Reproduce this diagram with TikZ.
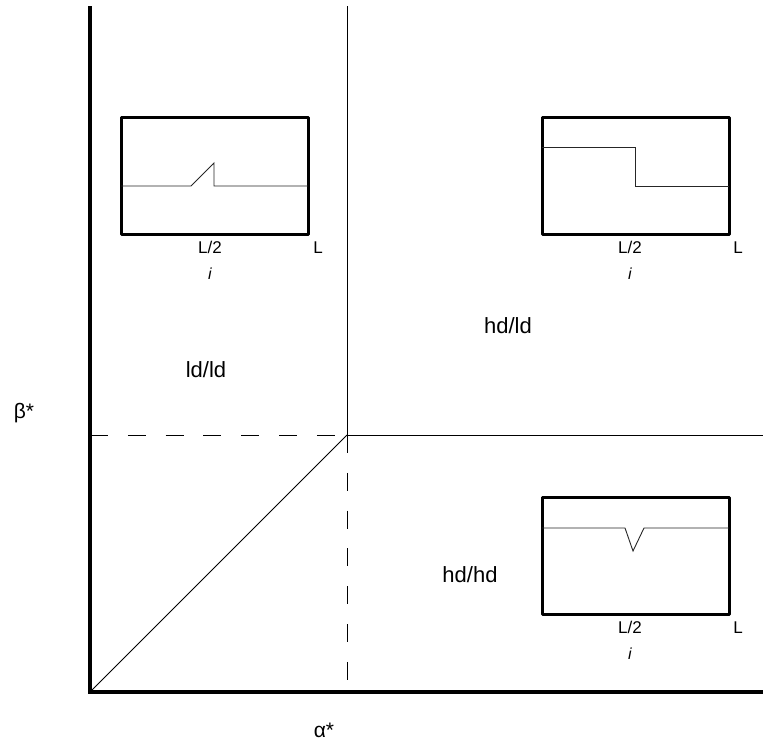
\documentclass[tikz,border=0pt]{standalone}
\usepackage{fontspec}
\setmainfont{Liberation Sans}
\begin{document}
\begin{tikzpicture}[x=1pt,y=-1pt,
  axisline/.style={line width=4pt},
  thinline/.style={line width=1pt},
  dashline/.style={line width=1pt,dash pattern=on 18pt off 19.8pt},
  insetbox/.style={line width=3pt,line join=round},
  profile/.style={line width=0.9pt,black!85},
  region/.style={font=\fontsize{22}{26}\selectfont,anchor=base,inner sep=0pt},
  axlabel/.style={font=\fontsize{21}{25}\selectfont,anchor=base,inner sep=0pt},
  ticklabel/.style={font=\fontsize{17}{20}\selectfont,anchor=base,inner sep=0pt},
  ilabel/.style={font=\fontsize{16}{19}\selectfont\itshape,anchor=base,inner sep=0pt}]
\useasboundingbox (0,0) rectangle (763,745);

% phase diagram frame
\coordinate (O) at (90,692);
\coordinate (Ytop) at (90,6);
\coordinate (Xend) at (763,692);
\coordinate (C) at (347,435);
\coordinate (Ctop) at (347,6);
\coordinate (Cright) at (763,435);
\coordinate (Cleft) at (90,435);
\coordinate (Cdown) at (347,692);

\draw[axisline] (Ytop) -- (O |- 0,694) ;
\draw[axisline] (88,692) -- (Xend);
\draw[thinline] (Ctop) -- (C) -- (Cright);
\draw[thinline] (O) -- (C);
\draw[dashline] (Cleft) -- (C);
\draw[dashline] (C) -- (Cdown);

% axis labels
\node[axlabel] (beta) at (24,418) {β*};
\node[axlabel] (alpha) at (324,737) {α*};

% region labels
\node[region] (ldld) at (206,377) {ld/ld};
\node[region] (hdld) at (508,333) {hd/ld};
\node[region] (hdhd) at (470,582) {hd/hd};

% inset: ld/ld density profile
\draw[insetbox] (121,117) rectangle (308,234);
\draw[profile] (121,186) -- (191,186) -- (214,163) -- (214,186) -- (308,186);
\node[ticklabel] (a2) at (210,253) {L/2};
\node[ticklabel] (aL) at (318,253) {L};
\node[ilabel] (ai) at (210,279) {i};

% inset: hd/ld density profile
\draw[insetbox] (542,117) rectangle (729,234);
\draw[profile] (542,147) -- (635,147) -- (635,186) -- (729,186);
\node[ticklabel] (b2) at (630,253) {L/2};
\node[ticklabel] (bL) at (738,253) {L};
\node[ilabel] (bi) at (630,279) {i};

% inset: hd/hd density profile
\draw[insetbox] (542,497) rectangle (729,614);
\draw[profile] (542,528) -- (625,528) -- (633,551) -- (644,528) -- (729,528);
\node[ticklabel] (c2) at (630,633) {L/2};
\node[ticklabel] (cL) at (738,633) {L};
\node[ilabel] (ci) at (630,659) {i};
\end{tikzpicture}
\end{document}
